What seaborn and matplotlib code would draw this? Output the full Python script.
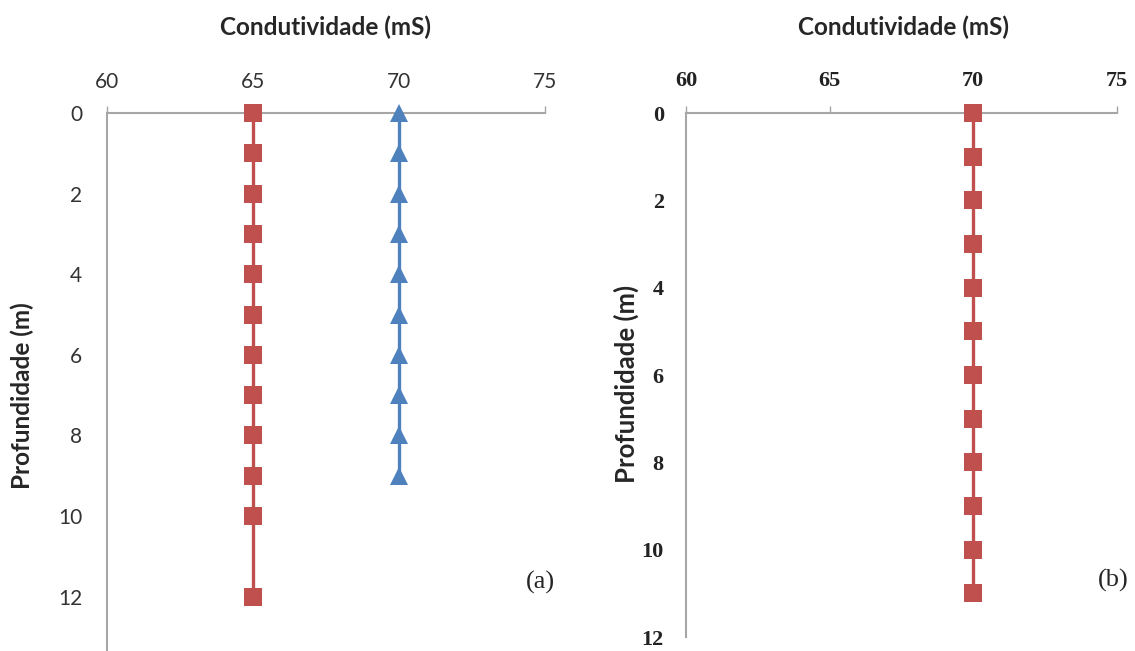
import numpy as np
import pandas as pd
import seaborn as sns
import matplotlib.pyplot as plt

# painel (a)
prof_a_verm = [0, 1, 2, 3, 4, 5, 6, 7, 8, 9, 10, 12]
cond_a_verm = [65, 65, 65, 65, 65, 65, 65, 65, 65, 65, 65, 65]
prof_a_azul = [0, 1, 2, 3, 4, 5, 6, 7, 8, 9]
cond_a_azul = [70, 70, 70, 70, 70, 70, 70, 70, 70, 70]

# painel (b)
prof_b = [0, 1, 2, 3, 4, 5, 6, 7, 8, 9, 10, 11]
cond_b = [70, 70, 70, 70, 70, 70, 70, 70, 70, 70, 70, 70]

x_ticks = [60, 65, 70, 75]
y_ticks = [0, 2, 4, 6, 8, 10, 12]

red = '#C0504D'
blue = '#4F81BD'
gray = '#A6A6A6'

sns.set_style('white')
plt.rcParams['font.family'] = ['Lato', 'DejaVu Sans']

fig = plt.figure(figsize=(11.35, 6.51), dpi=100)
ax1 = fig.add_axes([0.0943, 0.0, 0.3859, 0.8264])
ax2 = fig.add_axes([0.6044, 0.0215, 0.3797, 0.8049])

sns.lineplot(x=cond_a_verm, y=prof_a_verm, sort=False, estimator=None, ax=ax1,
             color=red, lw=2.4, marker='s', markersize=13, markeredgewidth=0,
             clip_on=False, zorder=3)
sns.lineplot(x=cond_a_azul, y=prof_a_azul, sort=False, estimator=None, ax=ax1,
             color=blue, lw=2.4, marker='^', markersize=13, markeredgewidth=0,
             clip_on=False, zorder=3)
sns.lineplot(x=cond_b, y=prof_b, sort=False, estimator=None, ax=ax2,
             color=red, lw=2.4, marker='s', markersize=13.5, markeredgewidth=0,
             clip_on=False, zorder=3)

for ax, ymax in [(ax1, 13.35), (ax2, 12)]:
    ax.set_xlim(60, 75)
    ax.set_ylim(ymax, 0)
    ax.set_xticks(x_ticks)
    ax.set_yticks(y_ticks)
    ax.xaxis.tick_top()
    ax.xaxis.set_label_position('top')
    for s in ['right', 'bottom']:
        ax.spines[s].set_visible(False)
    for s in ['top', 'left']:
        ax.spines[s].set_color(gray)
        ax.spines[s].set_linewidth(1.5)
    ax.tick_params(axis='both', direction='out', length=5, width=1, color=gray)
    ax.set_xlabel('')
    ax.set_ylabel('')

ax1.tick_params(axis='x', labelsize=15, labelcolor='#333333', pad=10)
ax1.tick_params(axis='y', labelsize=15, labelcolor='#333333', pad=13)
ax2.tick_params(axis='both', labelsize=16, labelcolor='#222222', pad=11)
for lab in ax2.get_xticklabels() + ax2.get_yticklabels():
    lab.set_family('Liberation Serif')
    lab.set_weight('bold')

fig.text(0.287, 0.958, 'Condutividade (mS)', ha='center', va='center',
         fontsize=17.5, fontweight='bold')
fig.text(0.796, 0.958, 'Condutividade (mS)', ha='center', va='center',
         fontsize=17.5, fontweight='bold')
fig.text(0.020, 0.393, 'Profundidade (m)', ha='center', va='center',
         rotation=90, fontsize=17.5, fontweight='bold')
fig.text(0.5515, 0.41, 'Profundidade (m)', ha='center', va='center',
         rotation=90, fontsize=18.5, fontweight='bold')

fig.text(0.476, 0.105, '(a)', ha='center', va='center', fontsize=19,
         family='Liberation Serif')
fig.text(0.981, 0.108, '(b)', ha='center', va='center', fontsize=19,
         family='Liberation Serif')

fig.savefig('out.png', dpi=100)
